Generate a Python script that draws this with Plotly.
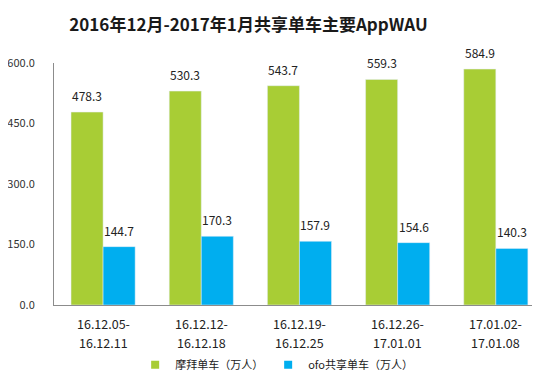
import plotly.graph_objects as go

cat_line1 = ["16.12.05-", "16.12.12-", "16.12.19-", "16.12.26-", "17.01.02-"]
cat_line2 = ["16.12.11", "16.12.18", "16.12.25", "17.01.01", "17.01.08"]
mobike = [478.3, 530.3, 543.7, 559.3, 584.9]
ofo = [144.7, 170.3, 157.9, 154.6, 140.3]
series_names = ["摩拜单车（万人）", "ofo共享单车（万人）"]
series_colors = ["#a8cd35", "#00aeef"]
tick_vals = [0, 150, 300, 450, 600]
tick_text = ["0.0", "150.0", "300.0", "450.0", "600.0"]
title_text = "2016年12月-2017年1月共享单车主要AppWAU"

FONT = "Noto Sans CJK SC, Microsoft YaHei, sans-serif"
x_idx = list(range(len(cat_line1)))
BARGAP = 0.347
half = (1 - BARGAP) / 4  # offset of each bar centre from category centre

fig = go.Figure()
for vals, name, col in ((mobike, series_names[0], series_colors[0]), (ofo, series_names[1], series_colors[1])):
    fig.add_trace(go.Bar(x=x_idx, y=vals, name=name, marker_color=col, showlegend=False,
                         legendgroup=name))
# legend entries with small square swatches
for name, col in zip(series_names, series_colors):
    fig.add_trace(go.Scatter(x=[None], y=[None], mode="markers", name=name, legendgroup=name,
                             marker=dict(symbol="square", size=8, color=col)))

annotations = []
for i in x_idx:
    for val, off in ((mobike[i], -half), (ofo[i], half)):
        annotations.append(dict(x=i + off, y=val, xref="x", yref="y", text=f"{val:.1f}",
                                showarrow=False, yanchor="bottom", yshift=6,
                                font=dict(size=12, color="#222", family=FONT)))
    annotations.append(dict(x=i, y=0, xref="x", yref="paper", text=cat_line1[i], showarrow=False,
                            yanchor="middle", yshift=-18, font=dict(size=12.5, color="#222", family=FONT)))
    annotations.append(dict(x=i, y=0, xref="x", yref="paper", text=cat_line2[i], showarrow=False,
                            yanchor="middle", yshift=-37, font=dict(size=12.5, color="#222", family=FONT)))

fig.update_layout(
    width=532, height=369,
    margin=dict(l=46, r=0, t=55, b=72, autoexpand=False),
    paper_bgcolor="white", plot_bgcolor="white",
    font=dict(family=FONT, color="#222"),
    barmode="group", bargap=BARGAP, bargroupgap=0,
    title=dict(text="<b>" + title_text + "</b>", x=0.452, xanchor="center", xref="container",
               y=0.954, yanchor="middle", yref="container",
               font=dict(size=17, color="#1a1a1a", family=FONT)),
    showlegend=True,
    legend=dict(orientation="h", xref="container", x=0.505, xanchor="center", yref="container",
                y=0.033, yanchor="middle",
                font=dict(size=11, color="#222", family=FONT), itemwidth=30,
                traceorder="normal"),
    annotations=annotations,
    xaxis=dict(range=[-0.5, 4.45], showticklabels=False, automargin=False,
               showline=True, linecolor="#8c8c8c", linewidth=1, ticks="", showgrid=False,
               zeroline=False),
    yaxis=dict(range=[0, 600], tickmode="array", tickvals=tick_vals, ticktext=tick_text,
               automargin=False,
               showline=True, linecolor="#8c8c8c", linewidth=1, ticks="", showgrid=False,
               tickfont=dict(size=11, color="#333", family=FONT), zeroline=False, ticklabelstandoff=16),
)
fig.write_html("out.html")
